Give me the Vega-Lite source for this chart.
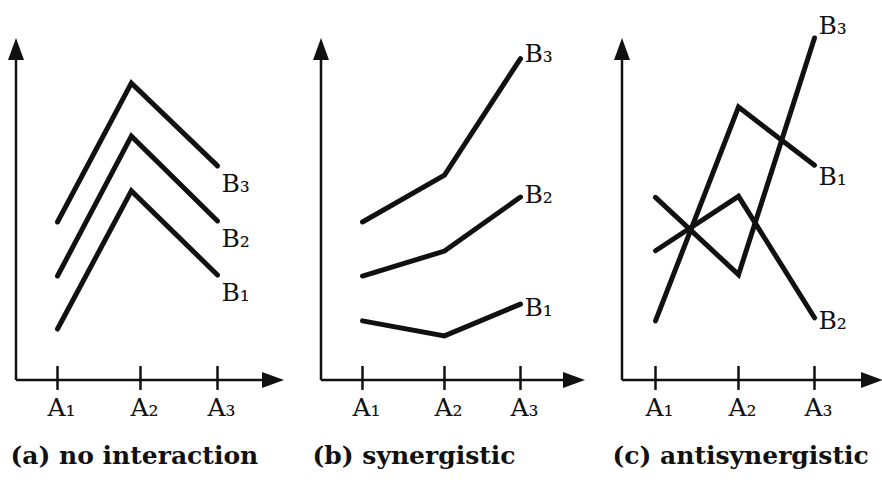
{
  "$schema": "https://vega.github.io/schema/vega-lite/v6.json",
  "padding": {"left": 8, "top": 14, "right": 0, "bottom": 0},
  "background": "white",
  "spacing": 37,
  "bounds": "flush",
  "config": {"view": {"stroke": null}},
  "datasets": {
    "lines": [
      {"panel": "a", "series": "B₁", "a": 1, "y": 1.49},
      {"panel": "a", "series": "B₁", "a": 1.89, "y": 5.53},
      {"panel": "a", "series": "B₁", "a": 3, "y": 3.07},
      {"panel": "a", "series": "B₂", "a": 1, "y": 3.04},
      {"panel": "a", "series": "B₂", "a": 1.89, "y": 7.13},
      {"panel": "a", "series": "B₂", "a": 3, "y": 4.65},
      {"panel": "a", "series": "B₃", "a": 1, "y": 4.62},
      {"panel": "a", "series": "B₃", "a": 1.89, "y": 8.68},
      {"panel": "a", "series": "B₃", "a": 3, "y": 6.26},
      {"panel": "b", "series": "B₁", "a": 1, "y": 1.73},
      {"panel": "b", "series": "B₁", "a": 2, "y": 1.29},
      {"panel": "b", "series": "B₁", "a": 3, "y": 2.22},
      {"panel": "b", "series": "B₂", "a": 1, "y": 3.04},
      {"panel": "b", "series": "B₂", "a": 2, "y": 3.77},
      {"panel": "b", "series": "B₂", "a": 3, "y": 5.35},
      {"panel": "b", "series": "B₃", "a": 1, "y": 4.62},
      {"panel": "b", "series": "B₃", "a": 2, "y": 5.99},
      {"panel": "b", "series": "B₃", "a": 3, "y": 9.4},
      {"panel": "c", "series": "B₁", "a": 1, "y": 1.73},
      {"panel": "c", "series": "B₁", "a": 2, "y": 7.98},
      {"panel": "c", "series": "B₁", "a": 3, "y": 6.28},
      {"panel": "c", "series": "B₂", "a": 1, "y": 3.78},
      {"panel": "c", "series": "B₂", "a": 2, "y": 5.37},
      {"panel": "c", "series": "B₂", "a": 3, "y": 1.82},
      {"panel": "c", "series": "B₃", "a": 1, "y": 5.34},
      {"panel": "c", "series": "B₃", "a": 2, "y": 3.08},
      {"panel": "c", "series": "B₃", "a": 3, "y": 10.0}
    ],
    "ticks": [
      {"a": 1, "label": "A₁"},
      {"a": 2, "label": "A₂"},
      {"a": 3, "label": "A₃"}
    ],
    "one": [{}]
  },
  "hconcat": [
    {
      "width": 268,
      "height": 342,
      "title": {"text": "(a) no interaction", "orient": "bottom", "anchor": "start", "frame": "group", "offset": 43, "baseline": "alphabetic", "dx": -5.5, "font": "DejaVu Serif", "fontSize": 25, "fontWeight": "bold", "color": "#111"},
      "layer": [
        {"data": {"name": "one"}, "mark": {"type": "rule", "strokeWidth": 2.5, "color": "#111"},
         "encoding": {"x": {"datum": 0, "type": "quantitative", "scale": {"domain": [0, 1, 2, 3, 4], "range": [0, 41.5, 124.5, 201.5, 268], "nice": false, "zero": false}, "axis": null},
                      "y": {"datum": 0, "type": "quantitative", "scale": {"domain": [0, 10], "nice": false, "zero": false}, "axis": null},
                      "y2": {"datum": 9.5}}},
        {"data": {"name": "one"}, "mark": {"type": "rule", "strokeWidth": 2.5, "color": "#111"},
         "encoding": {"x": {"datum": 0, "type": "quantitative", "scale": {"domain": [0, 1, 2, 3, 4], "range": [0, 41.5, 124.5, 201.5, 268], "nice": false, "zero": false}, "axis": null},
                      "x2": {"datum": 3.8},
                      "y": {"datum": 0, "type": "quantitative", "scale": {"domain": [0, 10], "nice": false, "zero": false}, "axis": null}}},
        {"data": {"name": "one"}, "mark": {"type": "point", "shape": "M0,0L0.727,2L-0.727,2Z", "size": 484, "filled": true, "color": "#111", "opacity": 1},
         "encoding": {"x": {"datum": 0, "type": "quantitative", "scale": {"domain": [0, 1, 2, 3, 4], "range": [0, 41.5, 124.5, 201.5, 268], "nice": false, "zero": false}, "axis": null},
                      "y": {"datum": 10, "type": "quantitative", "scale": {"domain": [0, 10], "nice": false, "zero": false}, "axis": null}}},
        {"data": {"name": "one"}, "mark": {"type": "point", "shape": "M0,0L-2,-0.727L-2,0.727Z", "size": 484, "filled": true, "color": "#111", "opacity": 1},
         "encoding": {"x": {"datum": 4, "type": "quantitative", "scale": {"domain": [0, 1, 2, 3, 4], "range": [0, 41.5, 124.5, 201.5, 268], "nice": false, "zero": false}, "axis": null},
                      "y": {"datum": 0, "type": "quantitative", "scale": {"domain": [0, 10], "nice": false, "zero": false}, "axis": null}}},
        {"data": {"name": "ticks"}, "mark": {"type": "rule", "strokeWidth": 2.5, "color": "#111"},
         "encoding": {"x": {"field": "a", "type": "quantitative", "scale": {"domain": [0, 1, 2, 3, 4], "range": [0, 41.5, 124.5, 201.5, 268], "nice": false, "zero": false}, "axis": null},
                      "y": {"datum": 0.41, "type": "quantitative", "scale": {"domain": [0, 10], "nice": false, "zero": false}, "axis": null},
                      "y2": {"datum": -0.29}}},
        {"data": {"name": "ticks"}, "mark": {"type": "text", "font": "DejaVu Serif", "fontSize": 25, "color": "#111", "align": "center", "baseline": "alphabetic", "dx": 4, "dy": 36},
         "encoding": {"x": {"field": "a", "type": "quantitative", "scale": {"domain": [0, 1, 2, 3, 4], "range": [0, 41.5, 124.5, 201.5, 268], "nice": false, "zero": false}, "axis": null},
                      "y": {"datum": 0, "type": "quantitative", "scale": {"domain": [0, 10], "nice": false, "zero": false}, "axis": null},
                      "text": {"field": "label"}}},
        {"data": {"name": "lines"}, "transform": [{"filter": "datum.panel === 'a'"}],
         "mark": {"type": "line", "strokeWidth": 5, "color": "#111", "strokeCap": "round", "strokeJoin": "miter"},
         "encoding": {"x": {"field": "a", "type": "quantitative", "scale": {"domain": [0, 1, 2, 3, 4], "range": [0, 41.5, 124.5, 201.5, 268], "nice": false, "zero": false}, "axis": null},
                      "y": {"field": "y", "type": "quantitative", "scale": {"domain": [0, 10], "nice": false, "zero": false}, "axis": null},
                      "detail": {"field": "series"}}},
        {"data": {"name": "lines"}, "transform": [{"filter": "datum.panel === 'a' && datum.a === 3"}],
         "mark": {"type": "text", "font": "DejaVu Serif", "fontSize": 25, "color": "#111", "align": "left", "baseline": "alphabetic", "dx": 4, "dy": 26},
         "encoding": {"x": {"field": "a", "type": "quantitative", "scale": {"domain": [0, 1, 2, 3, 4], "range": [0, 41.5, 124.5, 201.5, 268], "nice": false, "zero": false}, "axis": null},
                      "y": {"field": "y", "type": "quantitative", "scale": {"domain": [0, 10], "nice": false, "zero": false}, "axis": null},
                      "text": {"field": "series"}}}
      ]
    },
    {
      "width": 264,
      "height": 342,
      "title": {"text": "(b) synergistic", "orient": "bottom", "anchor": "start", "frame": "group", "offset": 43, "baseline": "alphabetic", "dx": -8.5, "font": "DejaVu Serif", "fontSize": 25, "fontWeight": "bold", "color": "#111"},
      "layer": [
        {"data": {"name": "one"}, "mark": {"type": "rule", "strokeWidth": 2.5, "color": "#111"},
         "encoding": {"x": {"datum": 0, "type": "quantitative", "scale": {"domain": [0, 1, 2, 3, 4], "range": [0, 41.5, 123.5, 199.5, 264], "nice": false, "zero": false}, "axis": null},
                      "y": {"datum": 0, "type": "quantitative", "scale": {"domain": [0, 10], "nice": false, "zero": false}, "axis": null},
                      "y2": {"datum": 9.5}}},
        {"data": {"name": "one"}, "mark": {"type": "rule", "strokeWidth": 2.5, "color": "#111"},
         "encoding": {"x": {"datum": 0, "type": "quantitative", "scale": {"domain": [0, 1, 2, 3, 4], "range": [0, 41.5, 123.5, 199.5, 264], "nice": false, "zero": false}, "axis": null},
                      "x2": {"datum": 3.8},
                      "y": {"datum": 0, "type": "quantitative", "scale": {"domain": [0, 10], "nice": false, "zero": false}, "axis": null}}},
        {"data": {"name": "one"}, "mark": {"type": "point", "shape": "M0,0L0.727,2L-0.727,2Z", "size": 484, "filled": true, "color": "#111", "opacity": 1},
         "encoding": {"x": {"datum": 0, "type": "quantitative", "scale": {"domain": [0, 1, 2, 3, 4], "range": [0, 41.5, 123.5, 199.5, 264], "nice": false, "zero": false}, "axis": null},
                      "y": {"datum": 10, "type": "quantitative", "scale": {"domain": [0, 10], "nice": false, "zero": false}, "axis": null}}},
        {"data": {"name": "one"}, "mark": {"type": "point", "shape": "M0,0L-2,-0.727L-2,0.727Z", "size": 484, "filled": true, "color": "#111", "opacity": 1},
         "encoding": {"x": {"datum": 4, "type": "quantitative", "scale": {"domain": [0, 1, 2, 3, 4], "range": [0, 41.5, 123.5, 199.5, 264], "nice": false, "zero": false}, "axis": null},
                      "y": {"datum": 0, "type": "quantitative", "scale": {"domain": [0, 10], "nice": false, "zero": false}, "axis": null}}},
        {"data": {"name": "ticks"}, "mark": {"type": "rule", "strokeWidth": 2.5, "color": "#111"},
         "encoding": {"x": {"field": "a", "type": "quantitative", "scale": {"domain": [0, 1, 2, 3, 4], "range": [0, 41.5, 123.5, 199.5, 264], "nice": false, "zero": false}, "axis": null},
                      "y": {"datum": 0.41, "type": "quantitative", "scale": {"domain": [0, 10], "nice": false, "zero": false}, "axis": null},
                      "y2": {"datum": -0.29}}},
        {"data": {"name": "ticks"}, "mark": {"type": "text", "font": "DejaVu Serif", "fontSize": 25, "color": "#111", "align": "center", "baseline": "alphabetic", "dx": 4, "dy": 36},
         "encoding": {"x": {"field": "a", "type": "quantitative", "scale": {"domain": [0, 1, 2, 3, 4], "range": [0, 41.5, 123.5, 199.5, 264], "nice": false, "zero": false}, "axis": null},
                      "y": {"datum": 0, "type": "quantitative", "scale": {"domain": [0, 10], "nice": false, "zero": false}, "axis": null},
                      "text": {"field": "label"}}},
        {"data": {"name": "lines"}, "transform": [{"filter": "datum.panel === 'b'"}],
         "mark": {"type": "line", "strokeWidth": 5, "color": "#111", "strokeCap": "round", "strokeJoin": "miter"},
         "encoding": {"x": {"field": "a", "type": "quantitative", "scale": {"domain": [0, 1, 2, 3, 4], "range": [0, 41.5, 123.5, 199.5, 264], "nice": false, "zero": false}, "axis": null},
                      "y": {"field": "y", "type": "quantitative", "scale": {"domain": [0, 10], "nice": false, "zero": false}, "axis": null},
                      "detail": {"field": "series"}}},
        {"data": {"name": "lines"}, "transform": [{"filter": "datum.panel === 'b' && datum.a === 3 && datum.series === 'B₃'"}],
         "mark": {"type": "text", "font": "DejaVu Serif", "fontSize": 25, "color": "#111", "align": "left", "baseline": "alphabetic", "dx": 4, "dy": 3},
         "encoding": {"x": {"field": "a", "type": "quantitative", "scale": {"domain": [0, 1, 2, 3, 4], "range": [0, 41.5, 123.5, 199.5, 264], "nice": false, "zero": false}, "axis": null},
                      "y": {"field": "y", "type": "quantitative", "scale": {"domain": [0, 10], "nice": false, "zero": false}, "axis": null},
                      "text": {"field": "series"}}},
        {"data": {"name": "lines"}, "transform": [{"filter": "datum.panel === 'b' && datum.a === 3 && datum.series === 'B₂'"}],
         "mark": {"type": "text", "font": "DejaVu Serif", "fontSize": 25, "color": "#111", "align": "left", "baseline": "alphabetic", "dx": 4, "dy": 6},
         "encoding": {"x": {"field": "a", "type": "quantitative", "scale": {"domain": [0, 1, 2, 3, 4], "range": [0, 41.5, 123.5, 199.5, 264], "nice": false, "zero": false}, "axis": null},
                      "y": {"field": "y", "type": "quantitative", "scale": {"domain": [0, 10], "nice": false, "zero": false}, "axis": null},
                      "text": {"field": "series"}}},
        {"data": {"name": "lines"}, "transform": [{"filter": "datum.panel === 'b' && datum.a === 3 && datum.series === 'B₁'"}],
         "mark": {"type": "text", "font": "DejaVu Serif", "fontSize": 25, "color": "#111", "align": "left", "baseline": "alphabetic", "dx": 4, "dy": 12},
         "encoding": {"x": {"field": "a", "type": "quantitative", "scale": {"domain": [0, 1, 2, 3, 4], "range": [0, 41.5, 123.5, 199.5, 264], "nice": false, "zero": false}, "axis": null},
                      "y": {"field": "y", "type": "quantitative", "scale": {"domain": [0, 10], "nice": false, "zero": false}, "axis": null},
                      "text": {"field": "series"}}}
      ]
    },
    {
      "width": 261,
      "height": 342,
      "title": {"text": "(c) antisynergistic", "orient": "bottom", "anchor": "start", "frame": "group", "offset": 43, "baseline": "alphabetic", "dx": -9.5, "font": "DejaVu Serif", "fontSize": 25, "fontWeight": "bold", "color": "#111"},
      "layer": [
        {"data": {"name": "one"}, "mark": {"type": "rule", "strokeWidth": 2.5, "color": "#111"},
         "encoding": {"x": {"datum": 0, "type": "quantitative", "scale": {"domain": [0, 1, 2, 3, 4], "range": [0, 33.5, 116.5, 192.5, 261], "nice": false, "zero": false}, "axis": null},
                      "y": {"datum": 0, "type": "quantitative", "scale": {"domain": [0, 10], "nice": false, "zero": false}, "axis": null},
                      "y2": {"datum": 9.5}}},
        {"data": {"name": "one"}, "mark": {"type": "rule", "strokeWidth": 2.5, "color": "#111"},
         "encoding": {"x": {"datum": 0, "type": "quantitative", "scale": {"domain": [0, 1, 2, 3, 4], "range": [0, 33.5, 116.5, 192.5, 261], "nice": false, "zero": false}, "axis": null},
                      "x2": {"datum": 3.8},
                      "y": {"datum": 0, "type": "quantitative", "scale": {"domain": [0, 10], "nice": false, "zero": false}, "axis": null}}},
        {"data": {"name": "one"}, "mark": {"type": "point", "shape": "M0,0L0.727,2L-0.727,2Z", "size": 484, "filled": true, "color": "#111", "opacity": 1},
         "encoding": {"x": {"datum": 0, "type": "quantitative", "scale": {"domain": [0, 1, 2, 3, 4], "range": [0, 33.5, 116.5, 192.5, 261], "nice": false, "zero": false}, "axis": null},
                      "y": {"datum": 10, "type": "quantitative", "scale": {"domain": [0, 10], "nice": false, "zero": false}, "axis": null}}},
        {"data": {"name": "one"}, "mark": {"type": "point", "shape": "M0,0L-2,-0.727L-2,0.727Z", "size": 484, "filled": true, "color": "#111", "opacity": 1},
         "encoding": {"x": {"datum": 4, "type": "quantitative", "scale": {"domain": [0, 1, 2, 3, 4], "range": [0, 33.5, 116.5, 192.5, 261], "nice": false, "zero": false}, "axis": null},
                      "y": {"datum": 0, "type": "quantitative", "scale": {"domain": [0, 10], "nice": false, "zero": false}, "axis": null}}},
        {"data": {"name": "ticks"}, "mark": {"type": "rule", "strokeWidth": 2.5, "color": "#111"},
         "encoding": {"x": {"field": "a", "type": "quantitative", "scale": {"domain": [0, 1, 2, 3, 4], "range": [0, 33.5, 116.5, 192.5, 261], "nice": false, "zero": false}, "axis": null},
                      "y": {"datum": 0.41, "type": "quantitative", "scale": {"domain": [0, 10], "nice": false, "zero": false}, "axis": null},
                      "y2": {"datum": -0.29}}},
        {"data": {"name": "ticks"}, "mark": {"type": "text", "font": "DejaVu Serif", "fontSize": 25, "color": "#111", "align": "center", "baseline": "alphabetic", "dx": 4, "dy": 36},
         "encoding": {"x": {"field": "a", "type": "quantitative", "scale": {"domain": [0, 1, 2, 3, 4], "range": [0, 33.5, 116.5, 192.5, 261], "nice": false, "zero": false}, "axis": null},
                      "y": {"datum": 0, "type": "quantitative", "scale": {"domain": [0, 10], "nice": false, "zero": false}, "axis": null},
                      "text": {"field": "label"}}},
        {"data": {"name": "lines"}, "transform": [{"filter": "datum.panel === 'c'"}],
         "mark": {"type": "line", "strokeWidth": 5, "color": "#111", "strokeCap": "round", "strokeJoin": "miter"},
         "encoding": {"x": {"field": "a", "type": "quantitative", "scale": {"domain": [0, 1, 2, 3, 4], "range": [0, 33.5, 116.5, 192.5, 261], "nice": false, "zero": false}, "axis": null},
                      "y": {"field": "y", "type": "quantitative", "scale": {"domain": [0, 10], "nice": false, "zero": false}, "axis": null},
                      "detail": {"field": "series"}}},
        {"data": {"name": "lines"}, "transform": [{"filter": "datum.panel === 'c' && datum.a === 3 && datum.series === 'B₃'"}],
         "mark": {"type": "text", "font": "DejaVu Serif", "fontSize": 25, "color": "#111", "align": "left", "baseline": "alphabetic", "dx": 4, "dy": -4},
         "encoding": {"x": {"field": "a", "type": "quantitative", "scale": {"domain": [0, 1, 2, 3, 4], "range": [0, 33.5, 116.5, 192.5, 261], "nice": false, "zero": false}, "axis": null},
                      "y": {"field": "y", "type": "quantitative", "scale": {"domain": [0, 10], "nice": false, "zero": false}, "axis": null},
                      "text": {"field": "series"}}},
        {"data": {"name": "lines"}, "transform": [{"filter": "datum.panel === 'c' && datum.a === 3 && datum.series === 'B₁'"}],
         "mark": {"type": "text", "font": "DejaVu Serif", "fontSize": 25, "color": "#111", "align": "left", "baseline": "alphabetic", "dx": 4, "dy": 20},
         "encoding": {"x": {"field": "a", "type": "quantitative", "scale": {"domain": [0, 1, 2, 3, 4], "range": [0, 33.5, 116.5, 192.5, 261], "nice": false, "zero": false}, "axis": null},
                      "y": {"field": "y", "type": "quantitative", "scale": {"domain": [0, 10], "nice": false, "zero": false}, "axis": null},
                      "text": {"field": "series"}}},
        {"data": {"name": "lines"}, "transform": [{"filter": "datum.panel === 'c' && datum.a === 3 && datum.series === 'B₂'"}],
         "mark": {"type": "text", "font": "DejaVu Serif", "fontSize": 25, "color": "#111", "align": "left", "baseline": "alphabetic", "dx": 4, "dy": 11},
         "encoding": {"x": {"field": "a", "type": "quantitative", "scale": {"domain": [0, 1, 2, 3, 4], "range": [0, 33.5, 116.5, 192.5, 261], "nice": false, "zero": false}, "axis": null},
                      "y": {"field": "y", "type": "quantitative", "scale": {"domain": [0, 10], "nice": false, "zero": false}, "axis": null},
                      "text": {"field": "series"}}}
      ]
    }
  ]
}
